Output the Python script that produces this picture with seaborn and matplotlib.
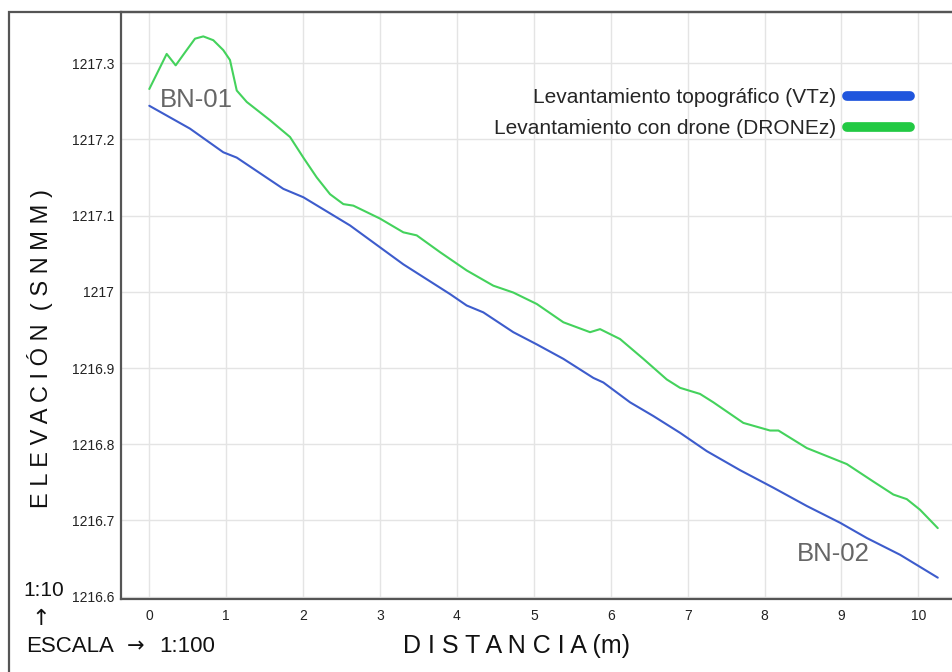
import matplotlib
matplotlib.use("Agg")
import matplotlib.pyplot as plt
from matplotlib.lines import Line2D
from matplotlib.patches import Rectangle
import seaborn as sns
import pandas as pd

# ---- data ----
vt_dist = [0.0, 0.529, 0.962, 1.137, 1.743, 2.003, 2.610, 3.303, 3.910, 4.127,
           4.343, 4.733, 5.038, 5.384, 5.774, 5.904, 6.251, 6.554, 6.901, 7.248,
           7.681, 8.114, 8.549, 8.982, 9.329, 9.762, 10.252]
vt_elev = [1217.244, 1217.214, 1217.183, 1217.176, 1217.135, 1217.124, 1217.087,
           1217.036, 1216.997, 1216.982, 1216.973, 1216.947, 1216.931, 1216.912,
           1216.887, 1216.881, 1216.855, 1216.837, 1216.815, 1216.791, 1216.766,
           1216.743, 1216.719, 1216.697, 1216.677, 1216.655, 1216.625]

dr_dist = [0.0, 0.226, 0.343, 0.464, 0.594, 0.702, 0.832, 0.962, 1.049, 1.137,
           1.267, 1.570, 1.830, 2.003, 2.177, 2.350, 2.523, 2.653, 3.0, 3.303,
           3.477, 3.780, 4.127, 4.473, 4.733, 5.038, 5.384, 5.731, 5.861, 6.121,
           6.424, 6.728, 6.901, 7.161, 7.334, 7.724, 8.071, 8.180, 8.549, 9.069,
           9.415, 9.675, 9.849, 10.022, 10.252]
dr_elev = [1217.266, 1217.312, 1217.297, 1217.314, 1217.332, 1217.335, 1217.330,
           1217.317, 1217.304, 1217.264, 1217.249, 1217.225, 1217.203, 1217.176,
           1217.150, 1217.128, 1217.115, 1217.113, 1217.096, 1217.078, 1217.074,
           1217.052, 1217.028, 1217.008, 1216.999, 1216.984, 1216.960, 1216.947,
           1216.951, 1216.938, 1216.912, 1216.885, 1216.874, 1216.866, 1216.855,
           1216.828, 1216.818, 1216.818, 1216.795, 1216.774, 1216.751, 1216.734,
           1216.728, 1216.714, 1216.690]

series_names = ["Levantamiento topográfico (VTz)", "Levantamiento con drone (DRONEz)"]
x_ticks = list(range(0, 11))
y_ticks = [1216.6, 1216.7, 1216.8, 1216.9, 1217.0, 1217.1, 1217.2, 1217.3]
y_tick_labels = ["1216.6", "1216.7", "1216.8", "1216.9", "1217", "1217.1", "1217.2", "1217.3"]

df = pd.concat([
    pd.DataFrame({"dist": vt_dist, "elev": vt_elev, "serie": series_names[0]}),
    pd.DataFrame({"dist": dr_dist, "elev": dr_elev, "serie": series_names[1]}),
])

sns.set_theme(style="whitegrid")
plt.rcParams["font.family"] = ["Liberation Sans", "DejaVu Sans"]

fig = plt.figure(figsize=(9.53, 6.72), dpi=100)
W, H = 953, 672
ax = fig.add_axes([121 / W, 1 - 599 / H, (953 - 121) / W, (599 - 12) / H])

line_colors = {series_names[0]: "#3d5ccc", series_names[1]: "#44d25c"}
sns.lineplot(data=df, x="dist", y="elev", hue="serie", palette=line_colors,
             ax=ax, linewidth=1.5, legend=False, sort=False, estimator=None)

ax.set_xlim(-0.368, 10.45)
ax.set_ylim(1216.597, 1217.367)
ax.set_xticks(x_ticks)
ax.set_xticklabels([str(t) for t in x_ticks])
ax.set_yticks(y_ticks)
ax.set_yticklabels(y_tick_labels)
ax.tick_params(axis="both", length=0, labelsize=10, colors="#222222")
ax.tick_params(axis="x", pad=7)
ax.tick_params(axis="y", pad=5)
ax.grid(True, color="#e4e4e4", linewidth=1)
ax.set_xlabel("")
ax.set_ylabel("")
for side in ["left", "top", "bottom"]:
    ax.spines[side].set_color("#555555")
    ax.spines[side].set_linewidth(1.6)
ax.spines["right"].set_visible(False)

# legend
handles = [Line2D([0], [0], color="#1f55dd", lw=7, solid_capstyle="round"),
           Line2D([0], [0], color="#22c943", lw=7, solid_capstyle="round")]
leg = ax.legend(handles, series_names, loc="upper right",
                bbox_to_anchor=((918 - 121) / (953 - 121), 1 - (80 - 12) / (599 - 12)),
                frameon=False, markerfirst=False, fontsize=15, handlelength=3.0,
                handletextpad=0.55, labelspacing=0.55, borderaxespad=0)

# point labels
ax.text(0.14, 1217.242, "BN-01", color="#666666", fontsize=18.5, ha="left", va="baseline")
ax.text(8.42, 1216.647, "BN-02", color="#666666", fontsize=18.5, ha="left", va="baseline")

# axis titles and scale notes
fig.text(40 / W, 1 - 348 / H, "E L E V A C I Ó N  ( S N M M )", rotation=90,
         fontsize=17, ha="center", va="center", color="#111111")
fig.text(517 / W, 1 - 646 / H, "D I S T A N C I A (m)", fontsize=18,
         ha="center", va="center", color="#111111")
fig.text(23 / W, 1 - 590 / H, "1:10", fontsize=15, ha="left", va="center", color="#111111")
fig.text(41 / W, 1 - 619 / H, "↑", fontsize=16, ha="center", va="center", color="#111111",
         family=["DejaVu Sans"])
fig.text(26 / W, 1 - 646 / H, "ESCALA", fontsize=16, ha="left", va="center", color="#111111")
fig.text(136 / W, 1 - 646 / H, "→", fontsize=15, ha="center", va="center", color="#111111",
         family=["DejaVu Sans"])
fig.text(159 / W, 1 - 646 / H, "1:100", fontsize=16, ha="left", va="center", color="#111111")

# outer frame
fig.patches.append(Rectangle((9 / W, -0.02), 1.0, 1 - 12 / H + 0.02, transform=fig.transFigure,
                             fill=False, edgecolor="#555555", linewidth=1.6))

fig.savefig("out.png", dpi=100, facecolor="white")
